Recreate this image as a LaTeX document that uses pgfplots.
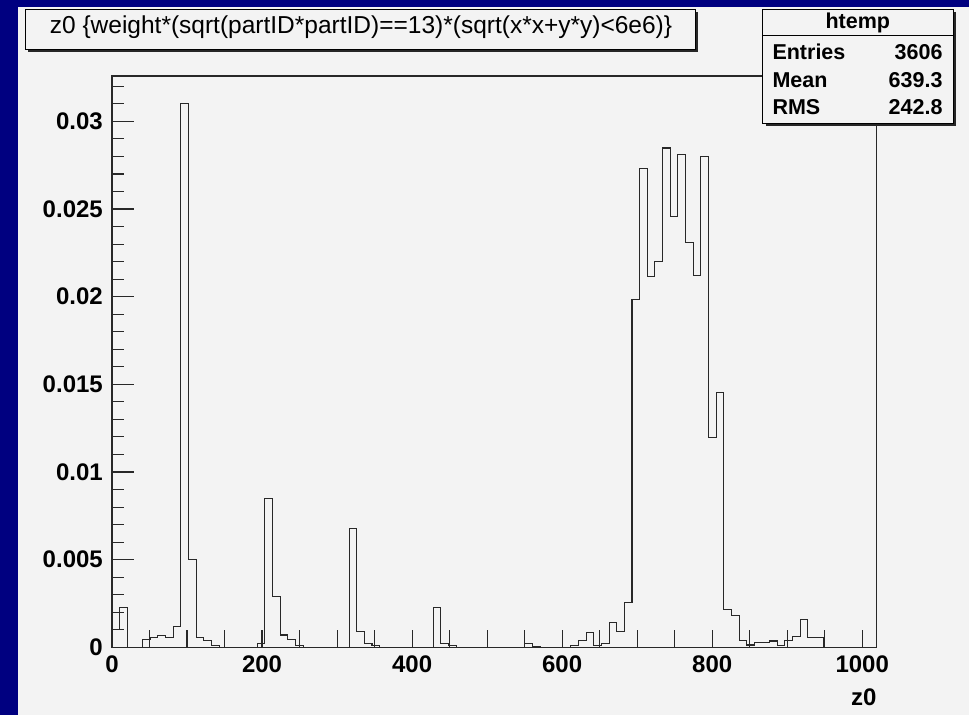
\documentclass[border=0pt]{standalone}
\usepackage{pgfplots}
\pgfplotsset{compat=1.18}
\usepackage{fontspec}
\setmainfont{Liberation Sans}
\definecolor{slideblue}{RGB}{0,0,128}
\definecolor{canvas}{RGB}{243,243,243}
\definecolor{histc}{RGB}{40,40,40}

\pgfplotstableread{
x y
0 0.0010
10.19 0.00226
20.39 0
30.58 0
40.77 0.00043
50.97 0.00058
61.16 0.00068
71.35 0.00058
81.54 0.00119
91.74 0.0310
101.93 0.0050
112.12 0.00055
122.32 0.00038
132.51 0.0001
142.70 0
152.90 0
163.09 0
173.28 0
183.47 0
193.67 0.0002
203.86 0.00848
214.05 0.00288
224.25 0.0007
234.44 0.00045
244.63 0.0001
254.83 0
265.02 0
275.21 0
285.40 0
295.60 0
305.79 0
315.98 0.00677
326.18 0.00089
336.37 0.00023
346.56 0.00008
356.76 0
366.95 0
377.14 0
387.33 0
397.53 0
407.72 0
417.91 0
428.11 0.00226
438.30 0.00023
448.49 0.00008
458.69 0
468.88 0
479.07 0
489.26 0
499.46 0
509.65 0
519.84 0
530.04 0
540.23 0
550.42 0.0002
560.62 0.00005
570.81 0
581.00 0
591.19 0
601.39 0
611.58 0.00008
621.77 0.00038
631.97 0.00084
642.16 0.0001
652.35 0.00023
662.55 0.00141
672.74 0.00089
682.93 0.00258
693.12 0.01986
703.32 0.0273
713.51 0.02117
723.70 0.02199
733.90 0.02848
744.09 0.0246
754.28 0.02812
764.48 0.0231
774.67 0.02119
784.86 0.02799
795.05 0.01197
805.25 0.01455
815.44 0.00216
825.63 0.00182
835.83 0.00038
846.02 0.00013
856.21 0.00027
866.41 0.00027
876.60 0.00036
886.79 0.0001
896.98 0.0004
907.18 0.0006
917.37 0.0016
927.56 0.00055
937.76 0.00055
947.95 0
958.14 0
968.34 0
978.53 0
988.72 0
998.91 0
1009.11 0
1019.30 0
}\histdata

\begin{document}
\begin{tikzpicture}[x=1pt,y=1pt]
\fill[slideblue] (0,0) rectangle (969,715);
\fill[canvas] (18,0) rectangle (969,708);

\begin{axis}[
  at={(112pt,67.7pt)}, anchor=south west,
  scale only axis, width=764.7pt, height=571.3pt,
  xmin=0, xmax=1019.3, ymin=0, ymax=0.03259,
  axis line style={line width=1.1pt, draw=histc},
  tick pos=left, tick align=inside,
  xtick=\empty,
  ytick={0,0.005,0.01,0.015,0.02,0.025,0.03},
  yticklabels={0,0.005,0.01,0.015,0.02,0.025,0.03},
  minor ytick={0.001,0.002,0.003,0.004,0.006,0.007,0.008,0.009,0.011,0.012,0.013,0.014,0.016,0.017,0.018,0.019,0.021,0.022,0.023,0.024,0.026,0.027,0.028,0.029,0.031,0.032},
  scaled y ticks=false,
  major tick length=22pt, minor tick length=11.7pt,
  tick style={line width=1.1pt, draw=histc},
  yticklabel style={font=\fontsize{24}{28}\selectfont\bfseries, inner sep=0pt, xshift=-9pt},
  xlabel={z0},
  xlabel style={font=\fontsize{24}{28}\selectfont\bfseries, at={(rel axis cs:1,0)}, anchor=east, inner sep=0pt, yshift=-49.7pt},
]
\addplot[const plot mark left, draw=histc, line width=1.1pt] table[x=x,y=y] {\histdata};
\end{axis}

\begin{axis}[
  at={(112pt,67.7pt)}, anchor=south west,
  scale only axis, width=764.7pt, height=571.3pt,
  xmin=0, xmax=1019.3, ymin=0, ymax=0.03259,
  hide y axis,
  axis line style={line width=1.1pt, draw=histc},
  tick pos=left, tick align=inside,
  xtick={0,200,400,600,800,1000},
  xticklabels={0,200,400,600,800,1000},
  minor xtick={50,100,150,250,300,350,450,500,550,650,700,750,850,900,950},
  major tick length=17pt, minor tick length=17pt,
  tick style={line width=1.1pt, draw=histc},
  xticklabel style={font=\fontsize{24}{28}\selectfont\bfseries, inner sep=0pt, yshift=-8pt},
]
\addplot[draw=none] coordinates {(0,0)};
\end{axis}

% title box
\fill[black!85] (28,663) rectangle (698,702.7);
\filldraw[fill=canvas, draw=black, line width=0.9pt] (25,666) rectangle (695,705.7);
\node[font=\fontsize{24.5}{28}\selectfont, inner sep=0pt, anchor=base] at (361,681.7) {z0 \{weight*(sqrt(partID*partID)==13)*(sqrt(x*x+y*y)<6e6)\}};

% stats box
\fill[black!85] (765.7,589) rectangle (956,702.7);
\filldraw[fill=canvas, draw=black, line width=0.9pt] (762.7,592) rectangle (953,705.7);
\draw[black, line width=0.9pt] (762.7,680) -- (953,680);
\node[font=\fontsize{21.5}{24}\selectfont\bfseries, inner sep=0pt, anchor=base] at (857.8,686.7) {htemp};
\node[font=\fontsize{21.5}{24}\selectfont\bfseries, inner sep=0pt, anchor=base west] at (772.3,655) {Entries};
\node[font=\fontsize{21.5}{24}\selectfont\bfseries, inner sep=0pt, anchor=base east] at (942.7,655) {3606};
\node[font=\fontsize{21.5}{24}\selectfont\bfseries, inner sep=0pt, anchor=base west] at (772.3,627) {Mean};
\node[font=\fontsize{21.5}{24}\selectfont\bfseries, inner sep=0pt, anchor=base east] at (942.7,627) {639.3};
\node[font=\fontsize{21.5}{24}\selectfont\bfseries, inner sep=0pt, anchor=base west] at (772.3,600) {RMS};
\node[font=\fontsize{21.5}{24}\selectfont\bfseries, inner sep=0pt, anchor=base east] at (942.7,600) {242.8};
\end{tikzpicture}
\end{document}
